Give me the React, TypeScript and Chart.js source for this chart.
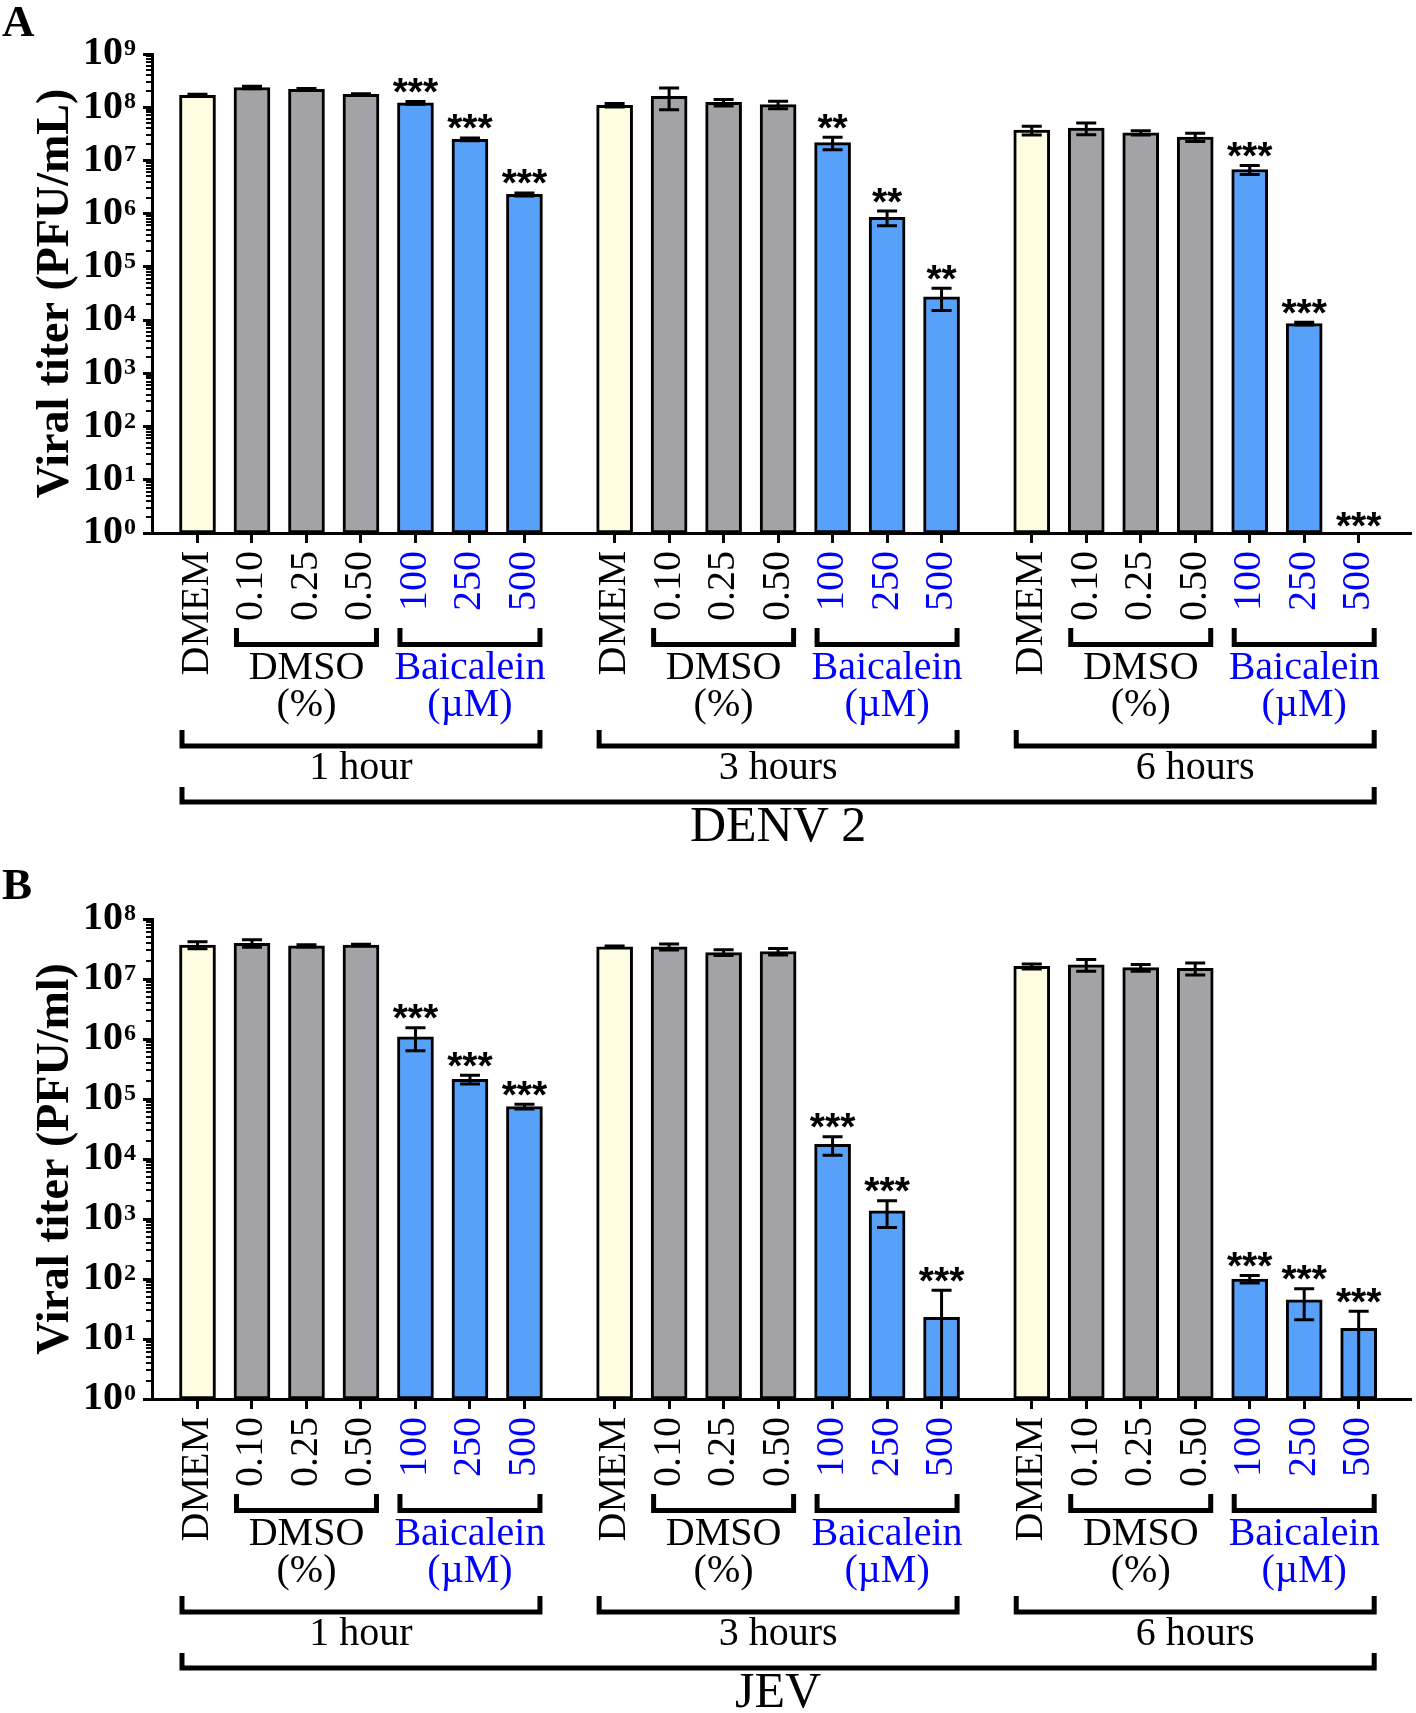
import React, { useEffect, useRef } from 'react';
import { Chart, registerables } from 'chart.js';

Chart.register(...registerables);

// ---------- data ----------
const categories = ['DMEM', '0.10', '0.25', '0.50', '100', '250', '500'];
const categoryKinds = ['medium', 'dmso', 'dmso', 'dmso', 'baicalein', 'baicalein', 'baicalein'];
const timeLabels = ['1 hour', '3 hours', '6 hours'];

// Panel A: DENV 2 (PFU/mL)
const denv1hMean = [1.68e8, 2.35e8, 2.18e8, 1.75e8, 1.21e8, 2.5e7, 2.3e6];
const denv1hSd = [8e6, 1.2e7, 8e6, 5e6, 7e6, 1.5e6, 1.5e5];
const denv3hMean = [1.09e8, 1.6e8, 1.23e8, 1.12e8, 2.16e7, 8.55e5, 2.75e4];
const denv3hSd = [8e6, 7e7, 1.7e7, 1.8e7, 5.7e6, 2.65e5, 1.24e4];
const denv6hMean = [3.7e7, 4.05e7, 3.3e7, 2.76e7, 6.77e6, 8.6e3, null];
const denv6hSd = [7e6, 1e7, 3e6, 5e6, 1.3e6, 5e2, null];
const denv1hSig = ['', '', '', '', '***', '***', '***'];
const denv3hSig = ['', '', '', '', '**', '**', '**'];
const denv6hSig = ['', '', '', '', '***', '***', '***'];

// Panel B: JEV (PFU/ml)
const jev1hMean = [3.69e7, 3.94e7, 3.57e7, 3.69e7, 1.09e6, 2.13e5, 7.5e4];
const jev1hSd = [5e6, 5.5e6, 1.5e6, 1e6, 4.5e5, 3.5e4, 7e3];
const jev3hMean = [3.44e7, 3.44e7, 2.76e7, 2.87e7, 1.76e4, 1.37e3, 23];
const jev3hSd = [1e6, 4e6, 3e6, 3.5e6, 6e3, 6.5e2, 42];
const jev6hMean = [1.62e7, 1.73e7, 1.55e7, 1.51e7, 100, 45, 15];
const jev6hSd = [1.5e6, 3.8e6, 2e6, 3.4e6, 14, 24, 14];
const jev1hSig = ['', '', '', '', '***', '***', '***'];
const jev3hSig = ['', '', '', '', '***', '***', '***'];
const jev6hSig = ['', '', '', '', '***', '***', '***'];

// ---------- style / layout ----------
const SERIF = '"Liberation Serif", "Times New Roman", serif';
const SANS = '"Liberation Sans", Arial, sans-serif';
const BLUE_TEXT = '#0000ff';
const FILL = { medium: '#fffde1', dmso: '#a3a2a7', baicalein: '#58a1fb' } as Record<string, string>;
const GROUP_STRIDE = 7.655;
const X_MIN = -0.835;
const X_MAX = 22.27;
const BAR_W = 36;
const HALF = BAR_W / 2;

type PanelSpec = {
  letter: string;
  letterBaseline: number;
  virus: string;
  yTitle: string;
  maxExp: number;
  means: (number | null)[][];
  sds: (number | null)[][];
  sigs: string[][];
  height: number;
  topPad: number;
  axisHeight: number;
};

const panelA: PanelSpec = {
  letter: 'A',
  letterBaseline: 36,
  virus: 'DENV 2',
  yTitle: 'Viral titer (PFU/mL)',
  maxExp: 9,
  means: [denv1hMean, denv3hMean, denv6hMean],
  sds: [denv1hSd, denv3hSd, denv6hSd],
  sigs: [denv1hSig, denv3hSig, denv6hSig],
  height: 856,
  topPad: 54,
  axisHeight: 323,
};

const panelB: PanelSpec = {
  letter: 'B',
  letterBaseline: 43,
  virus: 'JEV',
  yTitle: 'Viral titer (PFU/ml)',
  maxExp: 8,
  means: [jev1hMean, jev3hMean, jev6hMean],
  sds: [jev1hSd, jev3hSd, jev6hSd],
  sigs: [jev1hSig, jev3hSig, jev6hSig],
  height: 857,
  topPad: 63,
  axisHeight: 314,
};

const xPos = (g: number, i: number) => g * GROUP_STRIDE + i;

function buildConfig(spec: PanelSpec): any {
  const points: { x: number; y: number | null }[] = [];
  const colors: string[] = [];
  const positions: number[] = [];
  timeLabels.forEach((_, g) => {
    categories.forEach((_, i) => {
      points.push({ x: xPos(g, i), y: spec.means[g][i] });
      colors.push(FILL[categoryKinds[i]]);
      positions.push(xPos(g, i));
    });
  });
  const majors: number[] = [];
  for (let k = 0; k <= spec.maxExp; k++) majors.push(Math.pow(10, k));

  const decor = {
    id: 'panelDecor',
    afterDatasetsDraw(chart: any) {
      const ctx = chart.ctx as CanvasRenderingContext2D;
      const xs = chart.scales.x;
      const ys = chart.scales.y;
      const bottom = chart.chartArea.bottom;
      ctx.save();
      ctx.strokeStyle = '#000';
      ctx.fillStyle = '#000';
      ctx.lineWidth = 3;
      ctx.font = `bold 39px ${SANS}`;
      ctx.textAlign = 'center';
      ctx.textBaseline = 'alphabetic';
      timeLabels.forEach((_, g) => {
        categories.forEach((_, i) => {
          const x = xs.getPixelForValue(xPos(g, i));
          const m = spec.means[g][i];
          const s = spec.sds[g][i];
          let starBottom = bottom - 6;
          if (m != null) {
            const sd = s || 0;
            const yHi = ys.getPixelForValue(m + sd);
            const yLo = m - sd > 1 ? ys.getPixelForValue(m - sd) : bottom;
            ctx.beginPath();
            ctx.moveTo(x, yHi);
            ctx.lineTo(x, yLo);
            ctx.moveTo(x - 10, yHi);
            ctx.lineTo(x + 10, yHi);
            if (m - sd > 1) {
              ctx.moveTo(x - 10, yLo);
              ctx.lineTo(x + 10, yLo);
            }
            ctx.stroke();
            starBottom = yHi - 1.5 - 7;
          }
          const sig = spec.sigs[g][i];
          if (sig) {
            const mt = ctx.measureText(sig);
            ctx.fillText(sig, x, starBottom - mt.actualBoundingBoxDescent);
          }
        });
      });
      ctx.restore();
    },
    afterDraw(chart: any) {
      const ctx = chart.ctx as CanvasRenderingContext2D;
      const xs = chart.scales.x;
      const ys = chart.scales.y;
      const left = chart.chartArea.left;
      const y0 = chart.chartArea.bottom;
      ctx.save();
      ctx.fillStyle = '#000';
      ctx.strokeStyle = '#000';

      // panel letter
      ctx.font = `bold 45px ${SERIF}`;
      ctx.textAlign = 'left';
      ctx.textBaseline = 'alphabetic';
      ctx.fillText(spec.letter, 2, spec.letterBaseline);

      // exponents of y tick labels
      ctx.font = `bold 24px ${SERIF}`;
      for (let k = 0; k <= spec.maxExp; k++) {
        const y = ys.getPixelForValue(Math.pow(10, k));
        ctx.fillText(String(k), left - 28, y + 1);
      }

      // minor log ticks
      ctx.lineWidth = 2;
      ctx.beginPath();
      for (let k = 0; k < spec.maxExp; k++) {
        for (let m = 2; m <= 9; m++) {
          const y = Math.round(ys.getPixelForValue(m * Math.pow(10, k)));
          ctx.moveTo(left - 6, y);
          ctx.lineTo(left, y);
        }
      }
      ctx.stroke();

      // rotated category labels
      ctx.font = `40px ${SERIF}`;
      timeLabels.forEach((_, g) => {
        categories.forEach((label, i) => {
          const x = xs.getPixelForValue(xPos(g, i));
          ctx.save();
          ctx.translate(x, y0 + 18);
          ctx.rotate(-Math.PI / 2);
          ctx.textAlign = 'right';
          ctx.textBaseline = 'middle';
          ctx.fillStyle = categoryKinds[i] === 'baicalein' ? BLUE_TEXT : '#000';
          ctx.fillText(label, 0, 0);
          ctx.restore();
        });
      });

      // brackets
      const bw = 5;
      ctx.lineWidth = bw;
      ctx.lineCap = 'butt';
      ctx.lineJoin = 'miter';
      const bracket = (xa: number, xb: number, top: number, line: number) => {
        ctx.beginPath();
        ctx.moveTo(xa + bw / 2, top);
        ctx.lineTo(xa + bw / 2, line);
        ctx.lineTo(xb - bw / 2, line);
        ctx.lineTo(xb - bw / 2, top);
        ctx.stroke();
      };
      const px = (g: number, i: number) => xs.getPixelForValue(xPos(g, i));
      ctx.textAlign = 'center';
      ctx.textBaseline = 'middle';
      timeLabels.forEach((tl, g) => {
        const d1 = px(g, 1) - HALF;
        const d2 = px(g, 3) + HALF;
        bracket(d1, d2, y0 + 95, y0 + 111.5);
        const b1 = px(g, 4) - HALF;
        const b2 = px(g, 6) + HALF;
        bracket(b1, b2, y0 + 95, y0 + 111.5);
        ctx.font = `40px ${SERIF}`;
        ctx.fillStyle = '#000';
        ctx.fillText('DMSO', (d1 + d2) / 2, y0 + 135);
        ctx.fillText('(%)', (d1 + d2) / 2, y0 + 172);
        ctx.fillStyle = BLUE_TEXT;
        ctx.fillText('Baicalein', (b1 + b2) / 2, y0 + 135);
        ctx.fillText('(\u00b5M)', (b1 + b2) / 2, y0 + 172);
        const t1 = px(g, 0) - HALF;
        const t2 = px(g, 6) + HALF;
        bracket(t1, t2, y0 + 197, y0 + 213);
        ctx.fillStyle = '#000';
        ctx.fillText(tl, (t1 + t2) / 2, y0 + 235);
      });
      const v1 = px(0, 0) - HALF;
      const v2 = px(2, 6) + HALF;
      bracket(v1, v2, y0 + 254, y0 + 269);
      ctx.font = `50px ${SERIF}`;
      ctx.fillStyle = '#000';
      ctx.fillText(spec.virus, (v1 + v2) / 2, y0 + 295);
      ctx.restore();
    },
  };

  return {
    type: 'bar',
    data: {
      datasets: [
        {
          data: points,
          backgroundColor: colors,
          borderColor: '#000',
          borderWidth: 3,
          borderSkipped: false,
          barThickness: BAR_W,
        },
      ],
    },
    options: {
      responsive: false,
      maintainAspectRatio: false,
      animation: false,
      events: [],
      layout: { padding: { top: spec.topPad, left: 0, right: 5, bottom: 0 } },
      plugins: { legend: { display: false }, tooltip: { enabled: false } },
      scales: {
        x: {
          type: 'linear',
          offset: false,
          min: X_MIN,
          max: X_MAX,
          afterBuildTicks: (scale: any) => {
            scale.ticks = positions.map((v) => ({ value: v }));
          },
          afterFit: (scale: any) => {
            scale.height = spec.axisHeight;
          },
          ticks: { display: false },
          grid: {
            display: true,
            offset: false,
            drawOnChartArea: false,
            drawTicks: true,
            tickLength: 10,
            tickWidth: 3,
            tickColor: '#000',
          },
          border: { display: true, color: '#000', width: 3 },
        },
        y: {
          type: 'logarithmic',
          min: 1,
          max: Math.pow(10, spec.maxExp),
          afterBuildTicks: (scale: any) => {
            scale.ticks = majors.map((v) => ({ value: v, major: true }));
          },
          afterFit: (scale: any) => {
            scale.width = 152;
          },
          ticks: {
            autoSkip: false,
            padding: 20,
            color: '#000',
            font: { family: SERIF, weight: 'bold', size: 40 },
            callback: () => '10',
          },
          grid: {
            display: true,
            drawOnChartArea: false,
            drawTicks: true,
            tickLength: 9,
            tickWidth: 3,
            tickColor: '#000',
          },
          border: { display: true, color: '#000', width: 3 },
          title: {
            display: true,
            text: spec.yTitle,
            color: '#000',
            font: { family: SERIF, weight: 'bold', size: 46 },
            padding: { top: 29, bottom: 0 },
          },
        },
      },
    },
    plugins: [decor],
  };
}

function Panel({ spec }: { spec: PanelSpec }) {
  const ref = useRef<HTMLCanvasElement | null>(null);
  useEffect(() => {
    if (!ref.current) return;
    const chart = new Chart(ref.current, buildConfig(spec));
    return () => chart.destroy();
  }, [spec]);
  return (
    <canvas
      ref={ref}
      width={1416}
      height={spec.height}
      style={{ display: 'block', width: 1416, height: spec.height }}
    />
  );
}

export default function App() {
  return (
    <div
      style={{
        position: 'absolute',
        left: 0,
        top: 0,
        width: 1416,
        height: 1713,
        background: '#ffffff',
        overflow: 'hidden',
      }}
    >
      <Panel spec={panelA} />
      <Panel spec={panelB} />
    </div>
  );
}
